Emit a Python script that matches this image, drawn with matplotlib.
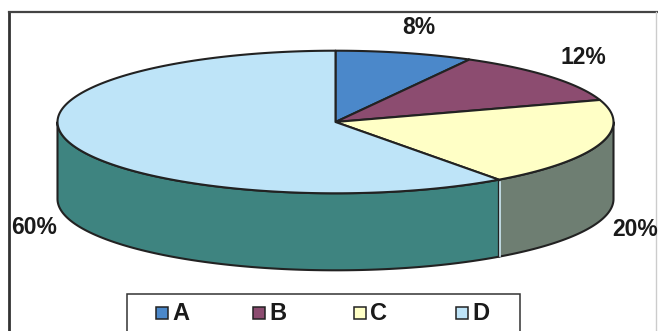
import numpy as np
import matplotlib
matplotlib.use("Agg")
import matplotlib.pyplot as plt
from matplotlib.patches import Polygon, Rectangle

# ---- data ----
categories = ["A", "B", "C", "D"]
shares = [8, 12, 20, 60]
pct_labels = ["8%", "12%", "20%", "60%"]

# ---- style ----
top_colors = ["#4B88CA", "#8C4C70", "#FFFFC6", "#BEE4F8"]
side_colors = ["#3A6A9E", "#6E3A58", "#6E7E72", "#3E8480"]
edge = "#222222"

W, H = 658, 331
fig = plt.figure(figsize=(W / 100, H / 100), dpi=100)
ax = fig.add_axes([0, 0, 1, 1])
ax.set_xlim(0, W)
ax.set_ylim(H, 0)
ax.axis("off")

# outer frame
ax.plot([9, 9], [H + 5, 12], color="#333333", lw=2.0, solid_capstyle="butt")
ax.plot([9, W + 5], [12, 12], color="#444444", lw=1.6)
ax.plot([656, 656], [12, H + 5], color="#cccccc", lw=1.0)

cx, cy, a, b, depth = 335.5, 122.0, 278.0, 71.3, 77.0


def pt(theta_deg, dy=0.0):
    t = np.radians(theta_deg)
    return cx + a * np.cos(t), cy - b * np.sin(t) + dy


total = float(sum(shares))
cum = np.concatenate([[0], np.cumsum(shares)]) / total
starts = 90 - 360 * cum[:-1]
ends = 90 - 360 * cum[1:]

# side faces (visible front half: angles in [-180, 0])
for i in range(len(shares)):
    hi, lo = starts[i], ends[i]
    s_hi, s_lo = min(hi, 0), max(lo, -180)
    if s_hi <= s_lo:
        continue
    th = np.linspace(s_hi, s_lo, 200)
    top = np.array([pt(t) for t in th])
    bot = np.array([pt(t, depth) for t in th[::-1]])
    poly = np.vstack([top, bot])
    ax.add_patch(Polygon(poly, closed=True, facecolor=side_colors[i],
                         edgecolor=edge, lw=1.5, joinstyle="round", zorder=2))

# highlight seam between side faces
for i in range(len(shares)):
    e = ends[i]
    if -180 < e < 0:
        x0, y0 = pt(e)
        ax.plot([x0 + 1.5, x0 + 1.5], [y0 + 2, y0 + depth - 1], color="#CFEAF5",
                lw=1.2, zorder=3)

# top faces
for i in range(len(shares)):
    th = np.linspace(starts[i], ends[i], 200)
    arc = np.array([pt(t) for t in th])
    poly = np.vstack([[cx, cy], arc])
    ax.add_patch(Polygon(poly, closed=True, facecolor=top_colors[i],
                         edgecolor=edge, lw=1.5, joinstyle="round", zorder=4))

# percentage labels
label_pos = [(419, 28), (583, 57), (635, 229), (34, 227)]
for txt, (x, y) in zip(pct_labels, label_pos):
    ax.text(x, y, txt, ha="center", va="center", fontsize=16.5,
            fontweight="bold", family="Liberation Sans", color="#1a1a1a", zorder=6)

# legend (drawn in pixel coordinates)
ax.add_patch(Rectangle((127, 294), 393, 60, facecolor="white",
                       edgecolor="#333333", lw=1.1, zorder=5))
leg_x = [156, 253, 354, 456]
sq = 12
leg_y = 313
for name, col, x in zip(categories, top_colors, leg_x):
    ax.add_patch(Rectangle((x, leg_y - sq / 2), sq, sq, facecolor=col,
                           edgecolor="#222222", lw=1.1, zorder=6))
    ax.text(x + sq + 4, leg_y + 1, name, ha="left", va="center", fontsize=17,
            fontweight="bold", family="Liberation Sans", color="#1a1a1a", zorder=6)

fig.savefig("out.png", dpi=100, facecolor="white")
